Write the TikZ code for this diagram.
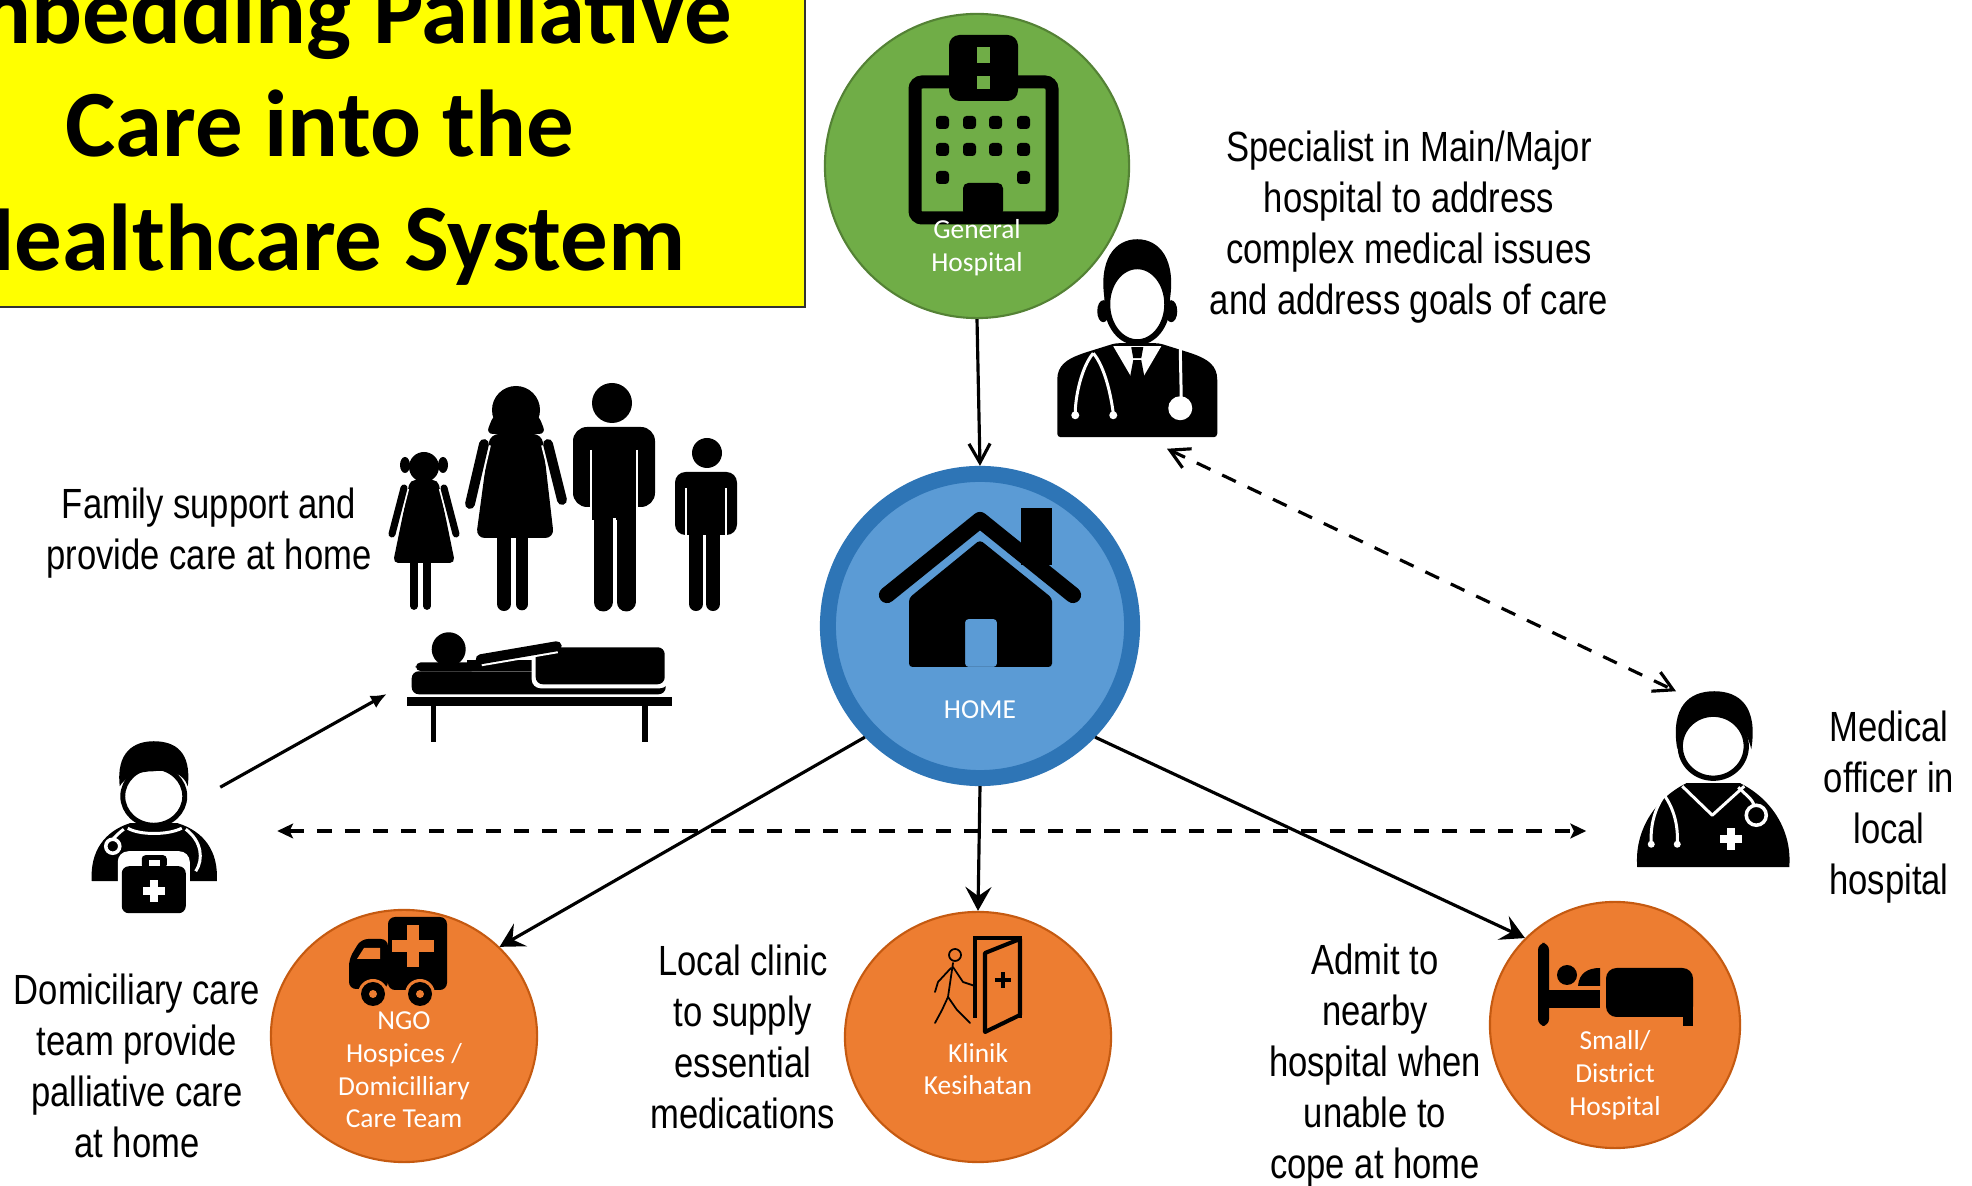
\documentclass[tikz,border=0pt]{standalone}
\usepackage{fontspec}
\setmainfont{Liberation Sans}
\newfontfamily\calibri{Carlito}
\newfontfamily\narrow{Liberation Sans}[FakeStretch=0.82]
\usetikzlibrary{shapes,arrows.meta,positioning}

\definecolor{titleyellow}{RGB}{255,255,0}
\definecolor{hospgreen}{HTML}{70AD47}
\definecolor{hospedge}{HTML}{548235}
\definecolor{homeblue}{HTML}{5B9BD5}
\definecolor{homeedge}{HTML}{2E75B6}
\definecolor{careorange}{HTML}{ED7D31}
\definecolor{careedge}{HTML}{C55A11}

\tikzset{
  hub/.style={circle, inner sep=0pt},
  carenode/.style={ellipse, draw=careedge, line width=0.6pt, fill=careorange, inner sep=0pt},
  circlelabel/.style={text=white, align=center, font=\calibri\fontsize{7.8pt}{9.3pt}\selectfont},
  note/.style={align=center, font=\narrow\fontsize{12pt}{14.5pt}\selectfont},
  icon/.style={inner sep=0pt},
  flow/.style={line width=0.9pt, -{Stealth[length=6.8pt, width=7.4pt, inset=2.6pt]}},
  feed/.style={line width=0.9pt, -{Straight Barb[length=5.4pt, width=6pt]}},
  twoway/.style={line width=0.9pt, dash pattern=on 4.3pt off 3.7pt,
    {Straight Barb[length=5.4pt, width=6pt]}-{Straight Barb[length=5.4pt, width=6pt]}},
  sideway/.style={line width=0.9pt, dash pattern=on 4.3pt off 3.7pt,
    {Stealth[length=4.5pt, width=4.2pt, inset=1pt]}-{Stealth[length=4.5pt, width=4.2pt, inset=1pt]}},
  halo/.style={line cap=round, preaction={draw=white, line width=#1}},
}

\begin{document}
\begin{tikzpicture}[x=0.01cm, y=-0.01cm]
  \useasboundingbox (0,0) rectangle (1972,1186);
  \clip (0,0) rectangle (1972,1186);
  \fill[white] (0,0) rectangle (1972,1186);

  % Title banner (runs off the top left corner)
  \node[draw=black!80, line width=0.6pt, fill=titleyellow, minimum width=9.7cm, minimum height=3.52cm, align=center,
        font=\calibri\bfseries\fontsize{27pt}{32.2pt}\selectfont] (title) at (320,131)
        {Embedding Palliative\\Care into the\\Healthcare System};

  % Hubs
  \node[hub, minimum size=3.04cm, fill=hospgreen, draw=hospedge, line width=0.6pt] (hosp) at (977,166) {};
  \node[hub, minimum size=3.04cm, fill=homeblue, draw=homeedge, line width=0.16cm] (home) at (980,626) {};

  % Bottom row of services
  \node[carenode, minimum width=2.66cm, minimum height=2.52cm] (ngo) at (404,1036) {};
  \node[carenode, minimum width=2.66cm, minimum height=2.50cm] (klinik) at (978,1037) {};
  \node[carenode, minimum width=2.50cm, minimum height=2.46cm] (small) at (1615,1025) {};

  % Hospital building
  \begin{scope}[shift={(hosp.center)}]
    \draw[line width=3.7pt, rounded corners=2pt] (-62,-84) rectangle (75,52);
    \fill[rounded corners=3pt] (-28,-131) rectangle (41,-65);
    \fill[hospgreen] (0,-119) rectangle (13,-103);
    \fill[hospgreen] (0,-90) rectangle (13,-77);
    \foreach \wx in {-41,-14,12,40}
      \foreach \wy in {-50,-23}
        \fill[rounded corners=1pt] (\wx,\wy) rectangle ++(13,13);
    \fill[rounded corners=1pt] (-41,5) rectangle ++(13,13);
    \fill[rounded corners=1pt] (40,5) rectangle ++(13,13);
    \fill[rounded corners=1.5pt] (-14,17) rectangle (26,50);
  \end{scope}

  % House
  \begin{scope}[shift={(home.center)}]
    \fill (41,-118) rectangle (72,-61);
    \draw[line width=4.6pt, line cap=round, line join=round] (-93,-31) -- (0,-106) -- (93,-31);
    \fill[even odd rule, rounded corners=1pt] (-71,-28) -- (0,-86) -- (72,-28) -- (72,41) -- (-71,41) -- cycle
      (-15,-7) rectangle (17,41);
  \end{scope}

  % Ambulance
  \begin{scope}[shift={(ngo.center)}]
    \fill[rounded corners=2pt] (-16,-119) rectangle (43,-46);
    \fill[rounded corners=2pt] (-55,-77) -- (-43,-97) -- (-16,-97) -- (-16,-47) -- (-55,-47) -- cycle;
    \fill[careorange] (-47,-77) -- (-40,-88) -- (-24,-88) -- (-24,-77) -- cycle;
    \fill[careorange] (3,-111) rectangle (15,-69);
    \fill[careorange] (-12,-96) rectangle (30,-84);
    \foreach \hx in {-31,16} {
      \fill[careorange] (\hx,-42) circle[radius=15];
      \fill (\hx,-42) circle[radius=12];
      \fill[careorange] (\hx,-42) circle[radius=4];
    }
  \end{scope}

  % Clinic door with walking person
  \begin{scope}[shift={(klinik.center)}]
    \draw[line width=1.15pt] (-3,-19) -- (-3,-99) -- (42,-99) -- (42,-19);
    \filldraw[fill=careorange, line width=1.15pt, line join=round] (7,-84) -- (42,-98) -- (42,-22) -- (7,-5) -- cycle;
    \fill (23,-65) rectangle (27,-49);
    \fill (17,-59) rectangle (33,-55);
    \begin{scope}[line width=0.5pt, double=careorange, double distance=1.2pt, line cap=round, line join=round]
      \draw (-23,-82) circle[radius=6];
      \draw (-25,-74) -- (-30,-40);
      \draw (-25,-70) -- (-15,-55) -- (-3,-51);
      \draw (-27,-69) -- (-40,-55) -- (-43,-45);
      \draw (-30,-40) -- (-21,-27) -- (-8,-14);
      \draw (-30,-40) -- (-36,-27) -- (-43,-14);
    \end{scope}
  \end{scope}

  % Hospital bed
  \begin{scope}[shift={(small.center)}]
    \fill[rounded corners=2pt] (-77,-82) rectangle (-66,1);
    \fill (-48,-50) circle[radius=10];
    \fill (-37,-39) .. controls (-36,-52) and (-27,-57) .. (-15,-57) -- (-15,-39) -- cycle;
    \fill (-66,-35) rectangle (-15,-17);
    \fill[rounded corners=3pt] (-9,-57) rectangle (78,-8);
    \fill (68,-17) rectangle (78,1);
  \end{scope}

  % Circle labels
  \node[circlelabel] (hosplbl) at (977,248) {General\\Hospital};
  \node[circlelabel] (homelbl) at (980,710) {HOME};
  \node[circlelabel] (ngolbl) at (404,1070) {NGO\\Hospices /\\Domicilliary\\Care Team};
  \node[circlelabel] (kliniklbl) at (978,1069) {Klinik\\Kesihatan};
  \node[circlelabel] (smalllbl) at (1615,1075) {Small/\\District\\Hospital};

  % People
  \node[icon, minimum width=1.68cm, minimum height=2cm] (spec) at (1138,338) {};
  \node[icon, minimum width=1.58cm, minimum height=1.76cm] (medoff) at (1714,780) {};
  \node[icon, minimum width=1.29cm, minimum height=1.72cm] (domdoc) at (155,828) {};
  \node[icon, minimum width=2.65cm, minimum height=1.08cm] (patient) at (540,689) {};

  % Specialist
  \begin{scope}[shift={(spec.north west)}]
    \fill[rounded corners=1pt] (4,200) -- (4,146) .. controls (4,128) and (14,122) .. (30,116) -- (62,106) -- (106,106)
      -- (138,116) .. controls (154,122) and (164,128) .. (164,146) -- (164,200) -- cycle;
    \fill (50,74) ellipse[x radius=6, y radius=11];
    \fill (118,74) ellipse[x radius=6, y radius=11];
    \filldraw[fill=white, line width=1.7pt] (84,67) ellipse[x radius=30, y radius=38];
    \fill (52,66) .. controls (44,22) and (62,2) .. (84,2) .. controls (106,2) and (124,22) .. (116,66)
      .. controls (112,40) and (100,30) .. (84,30) .. controls (68,30) and (56,40) .. (52,66) -- cycle;
    \fill[white] (60,109) -- (108,109) -- (84,150) -- cycle;
    \fill (78,110) -- (90,110) -- (88,121) -- (80,121) -- cycle;
    \fill (80,123) -- (88,123) -- (92,144) -- (84,151) -- (76,144) -- cycle;
    \draw[white, line width=0.85pt] (40,116) .. controls (28,130) and (22,160) .. (22,176);
    \draw[white, line width=0.85pt] (40,116) .. controls (52,130) and (58,160) .. (60,176);
    \fill[white] (22,178) circle[radius=4];
    \fill[white] (60,178) circle[radius=4];
    \draw[white, line width=0.85pt] (127,112) -- (128,160);
    \fill[white] (127,171) circle[radius=12];
  \end{scope}

  % Medical officer
  \begin{scope}[shift={(medoff.north west)}]
    \fill (3,176) .. controls (0,140) and (20,108) .. (52,92) -- (106,92)
      .. controls (138,108) and (158,140) .. (155,176) -- cycle;
    \filldraw[fill=white, line width=1.5pt] (79,55) ellipse[x radius=33, y radius=32];
    \fill (43,58) .. controls (36,15) and (55,0) .. (80,0) .. controls (105,0) and (124,15) .. (117,58)
      .. controls (112,36) and (100,24) .. (80,24) .. controls (60,24) and (48,36) .. (43,58) -- cycle;
    \draw[white, line width=0.85pt, line join=round] (48,95) -- (78,124) -- (110,95);
    \draw[white, line width=0.85pt] (30,104) .. controls (20,118) and (16,135) .. (17,152);
    \draw[white, line width=0.85pt] (30,104) .. controls (40,118) and (44,135) .. (43,152);
    \fill[white] (17,153) circle[radius=3.5];
    \fill[white] (43,153) circle[radius=3.5];
    \draw[white, line width=0.85pt] (104,96) .. controls (112,104) and (118,108) .. (120,114);
    \draw[white, line width=1pt] (122,124) circle[radius=10];
    \fill[white] (93,137) rectangle (101,159);
    \fill[white] (86,144) rectangle (108,152);
  \end{scope}

  % Domiciliary carer with kit bag
  \begin{scope}[shift={(domdoc.north west)}]
    \fill (2,140) .. controls (0,110) and (15,90) .. (40,82) -- (88,82)
      .. controls (114,90) and (129,110) .. (127,140) -- cycle;
    \filldraw[fill=white, line width=1.4pt] (64,55) ellipse[x radius=31, y radius=29];
    \fill (30,45) .. controls (26,10) and (45,0) .. (64,0) .. controls (85,0) and (102,10) .. (98,45)
      .. controls (94,32) and (80,28) .. (64,30) .. controls (48,30) and (35,36) .. (30,45) -- cycle;
    \draw[white, line width=0.85pt] (38,87) .. controls (50,94) and (78,94) .. (92,87);
    \draw[white, line width=0.85pt] (34,88) .. controls (26,94) and (24,98) .. (23,97);
    \draw[white, line width=1pt] (23,105) circle[radius=7];
    \draw[white, line width=0.85pt] (96,88) .. controls (112,100) and (114,118) .. (106,130);
    \fill[white, rounded corners=3pt] (28,110) rectangle (100,174);
    \fill[rounded corners=2pt] (32,125) rectangle (96,172);
    \fill[rounded corners=1pt] (52,114) rectangle (77,127);
    \fill[white] (59,119) rectangle (70,125);
    \fill[white] (60,139) rectangle (68,161);
    \fill[white] (53,146) rectangle (75,154);
  \end{scope}

  % Patient lying in bed
  \begin{scope}[shift={(patient.north west)}]
    \fill (0,63) rectangle (265,72);
    \fill (24,72) rectangle (29,108);
    \fill (235,72) rectangle (241,108);
    \fill[rounded corners=2pt] (5,37) rectangle (259,60);
    \fill (60,26) rectangle (135,37);
    \fill[rounded corners=1.5pt] (9,28) rectangle (70,37);
    \fill (42,15) circle[radius=17];
    \fill[white, rounded corners=2.5pt] (125,9) rectangle (262,54);
    \fill[rounded corners=2pt] (129,13) rectangle (258,50);
    \draw[halo=4pt, line width=2.85pt] (74,25) -- (150,12);
  \end{scope}

  % Family
  \begin{scope}
    % girl
    \fill (424,467) circle[radius=15];
    \fill (405,465) ellipse[x radius=5, y radius=8];
    \fill (443,465) ellipse[x radius=5, y radius=8];
    \fill[rounded corners=1.5pt] (410,480) -- (438,480) -- (455,563) -- (393,563) -- cycle;
    \draw[halo=3pt, line width=2pt] (404,488) -- (392,534);
    \draw[halo=3pt, line width=2pt] (444,488) -- (456,534);
    \draw[line width=2.2pt, line cap=round] (414,560) -- (414,606);
    \draw[line width=2.2pt, line cap=round] (427,560) -- (427,606);
    % woman
    \fill (516,410) ellipse[x radius=24, y radius=24];
    \fill[rounded corners=2pt] (494,414) -- (538,414) -- (546,434) -- (486,434) -- cycle;
    \fill[rounded corners=2.5pt] (490,434) -- (542,434) -- (554,538) -- (476,538) -- cycle;
    \draw[halo=4pt, line width=2.8pt] (484,444) -- (470,504);
    \draw[halo=4pt, line width=2.8pt] (548,444) -- (562,500);
    \draw[line width=4pt, line cap=round] (504,530) -- (504,604);
    \draw[line width=3.6pt, line cap=round] (522,530) -- (522,604);
    % man
    \fill (612,403) circle[radius=20];
    \fill[rounded corners=4pt] (573,427) -- (655,427) -- (655,507) -- (573,507) -- cycle;
    \fill (592,480) rectangle (636,520);
    \draw[white, line width=0.7pt] (591,450) -- (591,510);
    \draw[white, line width=0.7pt] (637,450) -- (637,510);
    \draw[line width=5.4pt, line cap=round] (603,512) -- (603,602);
    \draw[line width=5.4pt, line cap=round] (626,512) -- (626,602);
    \draw[white, line width=0.6pt] (614.5,518) -- (614.5,608);
    % boy
    \fill (707,453) circle[radius=15];
    \fill[rounded corners=3pt] (675,472) -- (737,472) -- (737,535) -- (675,535) -- cycle;
    \draw[white, line width=0.6pt] (686,488) -- (686,536);
    \draw[white, line width=0.6pt] (726,488) -- (726,536);
    \draw[line width=4pt, line cap=round] (696,530) -- (696,604);
    \draw[line width=4pt, line cap=round] (713,530) -- (713,604);
  \end{scope}

  % Captions
  \node[note] (spectxt) at (1409,227) {Specialist in Main/Major\\hospital to address\\complex medical issues\\and address goals of care};
  \node[note] (medofftxt) at (1889,807) {Medical\\officer in\\local\\hospital};
  \node[note] (familytxt) at (209,533) {Family support and\\provide care at home};
  \node[note] (domdoctxt) at (137,1066) {Domiciliary care\\team provide\\palliative care\\at home};
  \node[note] (kliniktxt) at (743,1037) {Local clinic\\to supply\\essential\\medications};
  \node[note] (admittxt) at (1375,1066) {Admit to\\nearby\\hospital when\\unable to\\cope at home};

  % Arrows
  \draw[feed] (hosp.south) -- (home.north);
  \draw[flow] (home.224) -- (ngo.43);
  \draw[flow] (home.south) -- (klinik.north);
  \draw[flow] (home.316) -- (small.136);
  \draw[twoway] ([shift={(29,10)}]spec.south) -- ([shift={(-38,0)}]medoff.north);
  \draw[sideway] ([shift={(57,3)}]domdoc.east) -- ([shift={(-48,51)}]medoff.west);
  \draw[line width=0.9pt, -{Latex[length=4.5pt, width=4pt]}] (domdoc.32) -- ([shift={(-20,5)}]patient.west);
\end{tikzpicture}
\end{document}
